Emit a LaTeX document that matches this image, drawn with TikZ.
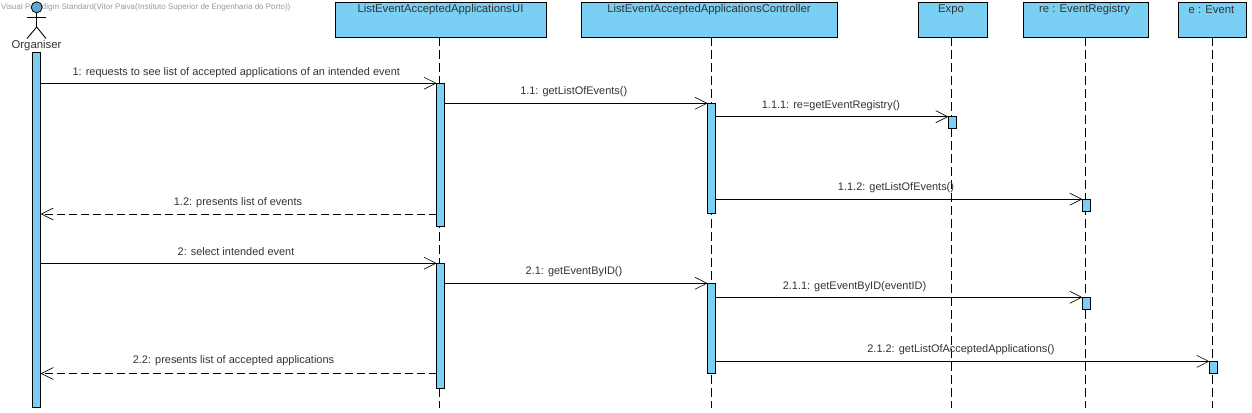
\documentclass[tikz,border=0pt]{standalone}
\usepackage{fontspec}
\setmainfont{Liberation Sans}
\usetikzlibrary{arrows.meta}
\definecolor{vpblue}{HTML}{7ACFF5}
\definecolor{vphead}{HTML}{5FA8CF}
\definecolor{vptext}{HTML}{333333}
\definecolor{vpmark}{HTML}{9A9A9A}
\tikzset{
  x=1pt,y=-1pt,
  objbox/.style={draw=black,fill=vpblue,line width=1pt,minimum height=35pt,inner sep=0pt,outer sep=0pt},
  objtext/.style={text=vptext,font=\fontsize{11.3}{13}\selectfont,inner sep=0pt,anchor=center},
  msgtext/.style={text=vptext,font=\fontsize{10.95}{13}\selectfont,inner sep=0pt,anchor=center},
  bar/.style={draw=black,fill=vpblue,line width=1pt,minimum width=8pt,inner sep=0pt,outer sep=0pt},
  lifeline/.style={draw=black,line width=0.9pt,dash pattern=on 9pt off 4pt},
  call/.style={draw=black,line width=0.9pt,-{Straight Barb[length=12pt,width=12pt,line width=0.6pt]}},
  reply/.style={draw=black,line width=0.9pt,dash pattern=on 8pt off 4pt,-{Straight Barb[length=12pt,width=12pt,line width=0.6pt,sep=0pt]}},
  actorline/.style={draw=black,line width=0.9pt},
}
\begin{document}
\begin{tikzpicture}
\useasboundingbox[fill=white] (0,0) rectangle (1252,412);
% watermark
\node[text=vpmark,font=\fontsize{8}{10}\selectfont,inner sep=0pt,anchor=west] (mark) at (1,7) {Visual Paradigm Standard(Vitor Paiva(Instituto Superior de Engenharia do Porto))};
% objects
\node[objbox,minimum width=211pt] (ui) at (440.5,19.7) {};
\node[objbox,minimum width=256pt] (ctl) at (709,19.7) {};
\node[objbox,minimum width=69pt] (expo) at (952.5,19.7) {};
\node[objbox,minimum width=125pt] (reg) at (1085.7,19.7) {};
\node[objbox,minimum width=68pt] (evt) at (1212.6,19.7) {};
\node[objtext] (uit) at (440.5,9.8) {ListEventAcceptedApplicationsUI};
\node[objtext] (ctlt) at (709,9.8) {ListEventAcceptedApplicationsController};
\node[objtext] (expot) at (951,9.8) {Expo};
\node[objtext] (regt) at (1084.5,9.8) {re : EventRegistry};
\node[objtext] (evtt) at (1211.5,9.8) {e : Event};
% lifeline ends
\coordinate (uie) at (439.4,408);
\coordinate (ctle) at (711.4,408);
\coordinate (expoe) at (951.8,408);
\coordinate (rege) at (1085.4,408);
\coordinate (evte) at (1212.8,408);
\draw[lifeline] (uie |- ui.south) -- (uie);
\draw[lifeline] (ctle |- ctl.south) -- (ctle);
\draw[lifeline] (expoe |- expo.south) -- (expoe);
\draw[lifeline] (rege |- reg.south) -- (rege);
\draw[lifeline] (evte |- evt.south) -- (evte);
% actor
\node[circle,draw=black,fill=vphead,line width=0.8pt,minimum size=11pt,inner sep=0pt] (head) at (36.7,7.3) {};
\coordinate (hip) at (36.7,27);
\coordinate (armL) at (27,17.7);
\coordinate (armR) at (46,17.7);
\coordinate (footL) at (27,38.5);
\coordinate (footR) at (46,38.5);
\draw[actorline] (head.south) -- (hip);
\draw[actorline] (armL) -- (armR);
\draw[actorline] (footL) -- (hip) -- (footR);
\node[objtext] (org) at (36.5,45.8) {Organiser};
% activations
\node[bar,minimum height=355pt] (b0) at (36.7,229.8) {};
\node[bar,minimum height=143pt] (b1) at (440.6,154.7) {};
\node[bar,minimum height=125pt] (b2) at (440.6,325.7) {};
\node[bar,minimum height=110pt] (c1) at (711.6,158.3) {};
\node[bar,minimum height=90pt] (c2) at (711.6,328.3) {};
\node[bar,minimum height=12pt] (x1) at (952.4,122.7) {};
\node[bar,minimum height=12pt] (r1) at (1086.4,205.2) {};
\node[bar,minimum height=12pt] (r2) at (1086.4,303.3) {};
\node[bar,minimum height=12pt] (e1) at (1213.4,367.4) {};
% messages
\draw[call] (b0.east |- b1.north) -- (b1.north west);
\draw[call] (b1.east |- c1.north) -- (c1.north west);
\draw[call] (c1.east |- x1.north) -- (x1.north west);
\draw[call] (c1.east |- r1.north) -- (r1.north west);
\draw[reply] (b1.west |- 0,214) -- (b0.east |- 0,214);
\draw[call] (b0.east |- b2.north) -- (b2.north west);
\draw[call] (b2.east |- c2.north) -- (c2.north west);
\draw[call] (c2.east |- r2.north) -- (r2.north west);
\draw[call] (c2.east |- e1.north) -- (e1.north west);
\draw[reply] (b2.west |- 0,373.5) -- (b0.east |- 0,373.5);
% labels
\node[msgtext] (m1) at (236.3,72.3) {1: requests to see list of accepted applications of an intended event};
\node[msgtext] (m11) at (573.7,91.5) {1.1: getListOfEvents()};
\node[msgtext] (m111) at (831,105.3) {1.1.1: re=getEventRegistry()};
\node[msgtext] (m112) at (896,187.5) {1.1.2: getListOfEvents()};
\node[msgtext] (m12) at (238,202.5) {1.2: presents list of events};
\node[msgtext] (m2) at (236,251.8) {2: select intended event};
\node[msgtext] (m21) at (574,271.5) {2.1: getEventByID()};
\node[msgtext] (m211) at (854.5,286.5) {2.1.1: getEventByID(eventID)};
\node[msgtext] (m212) at (961,350) {2.1.2: getListOfAcceptedApplications()};
\node[msgtext] (m22) at (233.5,360.5) {2.2: presents list of accepted applications};
\end{tikzpicture}
\end{document}
